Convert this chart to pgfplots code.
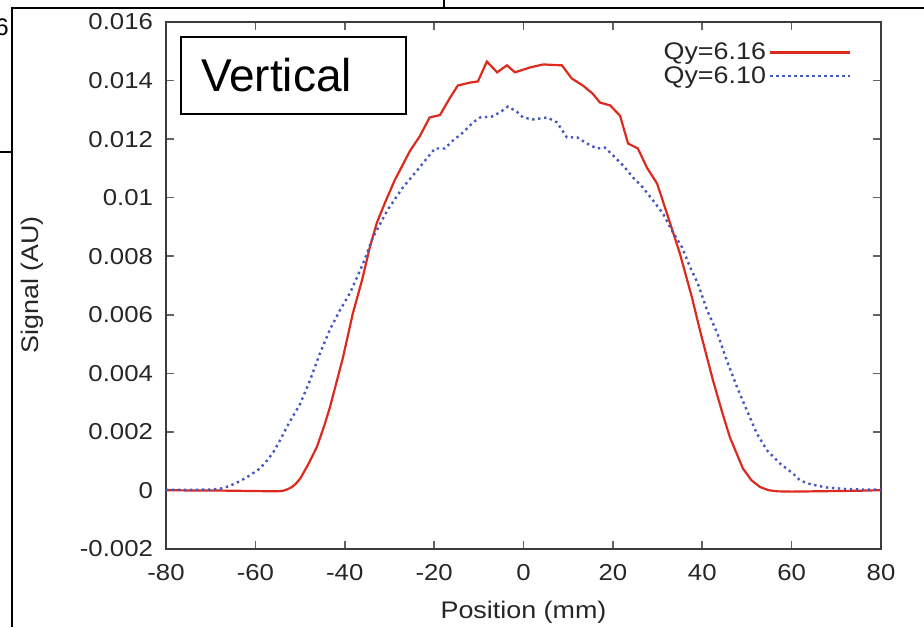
\documentclass[border=0pt]{standalone}
\usepackage{pgfplots}
\pgfplotsset{compat=1.18}
\usepackage{fontspec}
\setmainfont{Liberation Sans}
\newfontfamily\tickfont{Liberation Sans}[FakeStretch=1.12]
\definecolor{redline}{RGB}{220,42,28}
\definecolor{blueline}{RGB}{70,88,190}
\definecolor{axgray}{RGB}{60,60,60}
\begin{document}
\begin{tikzpicture}
\begin{axis}[
  scale only axis,
  width=357.5pt, height=263.5pt,
  xmin=-80, xmax=80, ymin=-0.002, ymax=0.016,
  scaled y ticks=false, scaled x ticks=false,
  xtick={-80,-60,-40,-20,0,20,40,60,80},
  xticklabels={-80,-60,-40,-20,0,20,40,60,80},
  ytick={-0.002,0,0.002,0.004,0.006,0.008,0.01,0.012,0.014,0.016},
  yticklabels={-0.002,0,0.002,0.004,0.006,0.008,0.01,0.012,0.014,0.016},
  tick align=inside,
  major tick length=4pt,
  tick style={axgray!80, line width=0.8pt},
  axis line style={axgray, line width=1pt},
  tick label style={font=\tickfont\fontsize{11.5}{13}\selectfont, text=black!85},
  xticklabel style={yshift=-4pt},
  yticklabel style={xshift=-3pt},
  xlabel={Position (mm)},
  ylabel={Signal (AU)},
  label style={font=\tickfont\fontsize{12}{14}\selectfont, text=black!85},
  xlabel style={at={(axis description cs:0.5,-0.1195)}, anchor=center},
  ylabel style={at={(axis description cs:-0.187,0.501)}, anchor=center},
  legend plot pos=right,
  legend cell align=right,
  legend image code/.code={\path (0pt,0pt) -- (6pt,0pt); \draw[#1] (6pt,0pt) -- (40pt,0pt);},
  legend style={at={(rel axis cs:0.9675,0.975)}, anchor=north east,
    draw=none, fill=none, font=\tickfont\fontsize{12}{13}\selectfont,
    row sep=-1pt, nodes={inner sep=1.5pt, text=black!85}},
]
\addplot[redline, line width=1.1pt] table {
-80 0.00001
-75 0.00000
-70 0.00000
-65 -0.00001
-60 -0.00002
-56 -0.00003
-54 -0.00002
-53 0.00003
-52 0.00010
-51 0.00022
-50 0.00040
-48.5 0.00080
-47.8 0.0010
-46.2 0.00150
-44.5 0.00225
-43.3 0.00285
-40.4 0.00454
-38.2 0.00604
-36.1 0.00720
-34.4 0.00830
-32.8 0.00915
-30.8 0.00990
-28.8 0.01060
-25.4 0.01160
-23.2 0.01210
-21.0 0.01274
-18.7 0.01282
-16.5 0.01340
-14.7 0.01383
-12.0 0.01393
-10.2 0.01397
-8.2 0.01465
-5.9 0.01428
-3.7 0.01452
-1.9 0.01428
1.5 0.01445
4.4 0.01455
8.6 0.01452
10.8 0.01407
13.3 0.01383
15.5 0.01355
17.1 0.01325
19.4 0.01315
21.6 0.01280
23.4 0.01185
25.6 0.01168
27.6 0.01103
29.9 0.01048
32.1 0.00946
35.0 0.00809
37.7 0.00659
39.5 0.00546
42.4 0.00376
44.5 0.00265
46.2 0.00181
49.1 0.00075
51.0 0.00035
52.9 0.00012
54.8 0.00001
56.7 -0.00003
60 -0.00004
65 -0.00003
70 -0.00002
75 -0.00001
80 0.00001
};
\addlegendentry{Qy=6.16}
\addplot[blueline, line width=1.2pt, dash pattern=on 1.2pt off 1.8pt] table {
-80 0.00002
-75 0.00002
-70 0.00003
-67.9 0.00006
-66 0.00014
-64.1 0.00027
-62.5 0.00040
-61.2 0.00052
-59.0 0.00075
-57.5 0.00100
-56.0 0.00130
-54.7 0.00165
-52.5 0.00230
-50.0 0.00295
-47.8 0.00375
-45.5 0.00470
-43.3 0.00550
-41.1 0.00615
-38.8 0.00675
-35.9 0.00775
-33.7 0.00864
-30.5 0.00956
-27.0 0.01035
-23.8 0.01093
-20.9 0.01148
-19.8 0.01168
-17.6 0.01168
-15.8 0.01195
-13.5 0.01223
-11.3 0.01257
-9.7 0.01274
-7.1 0.01277
-5.3 0.01291
-3.5 0.01311
-1.5 0.01294
-0.1 0.01274
2.1 0.01267
5.3 0.01274
7.5 0.01257
9.7 0.01206
12.0 0.01206
14.2 0.01185
16.4 0.01168
18.2 0.01171
20.0 0.01145
22.3 0.01110
24.5 0.01069
26.7 0.01035
29.0 0.00990
31.2 0.00946
33.2 0.00888
35.5 0.00830
37.3 0.00762
39.0 0.00707
41.1 0.00615
43.4 0.00536
45.5 0.00444
47.8 0.00352
50.0 0.00273
52.2 0.00195
54.5 0.00137
57.4 0.00092
60.3 0.00058
61.9 0.00034
64.5 0.00020
67.9 0.00010
72 0.00005
76 0.00003
80 0.00003
};
\addlegendentry{Qy=6.10}
\node[draw=black, line width=1pt, anchor=north west, fill=white,
  text width=92.5pt, inner xsep=10pt, inner ysep=0pt,
  minimum width=112.5pt, minimum height=38.5pt, align=left,
  font=\fontsize{23}{26}\selectfont]
  at (rel axis cs:0.0196,0.9734) {Vertical};
\coordinate (sw) at (rel axis cs:0,0);
\coordinate (ne) at (rel axis cs:1,1);
\end{axis}
% slide frame artifacts around the screenshot
\draw[black, line width=1pt] ([shift={(-77pt,-39pt)}]sw) -- ([shift={(-77pt,270.5pt)}]sw) -- ([shift={(379pt,270.5pt)}]sw);
\draw[black, line width=1pt] ([shift={(139pt,270.5pt)}]sw) -- ([shift={(139pt,274.5pt)}]sw);
\draw[black, line width=1pt] ([shift={(-83pt,198.5pt)}]sw) -- ([shift={(-77pt,198.5pt)}]sw);
\node[anchor=east, inner sep=0pt, font=\fontsize{12}{14}\selectfont] at ([shift={(-78.5pt,261pt)}]sw) {6};
\pgfresetboundingbox
\path ([shift={(-83pt,-39pt)}]sw) rectangle ([shift={(21.5pt,11pt)}]ne);
\end{tikzpicture}
\end{document}
